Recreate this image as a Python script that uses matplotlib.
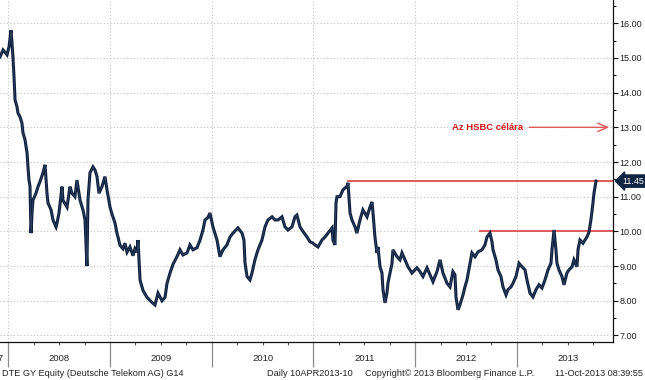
import matplotlib
matplotlib.use('Agg')
import matplotlib.pyplot as plt
import matplotlib.transforms as mtransforms
from matplotlib.ticker import MultipleLocator, FixedLocator, NullFormatter

plt.rcParams['font.family'] = ['Liberation Sans', 'DejaVu Sans']

# ---- data (decimal year, price in EUR) ----
dates = [2007.918, 2007.948, 2007.987, 2008.007, 2008.026, 2008.036, 2008.046, 2008.056,
         2008.066, 2008.085, 2008.095, 2008.115, 2008.134, 2008.144, 2008.164, 2008.184,
         2008.193, 2008.203, 2008.213, 2008.223, 2008.233, 2008.242, 2008.272, 2008.292,
         2008.311, 2008.341, 2008.361, 2008.380, 2008.390, 2008.420, 2008.439, 2008.469,
         2008.479, 2008.498, 2008.528, 2008.537, 2008.577, 2008.606, 2008.626, 2008.655,
         2008.675, 2008.705, 2008.734, 2008.754, 2008.773, 2008.783, 2008.803, 2008.832,
         2008.852, 2008.872, 2008.891, 2008.921, 2008.950, 2008.970, 2009.000, 2009.019,
         2009.049, 2009.068, 2009.078, 2009.098, 2009.127, 2009.147, 2009.167, 2009.196,
         2009.226, 2009.245, 2009.265, 2009.275, 2009.295, 2009.324, 2009.363, 2009.413,
         2009.442, 2009.472, 2009.511, 2009.541, 2009.560, 2009.590, 2009.619, 2009.658,
         2009.688, 2009.717, 2009.757, 2009.786, 2009.816, 2009.855, 2009.885, 2009.914,
         2009.934, 2009.963, 2009.983, 2010.012, 2010.052, 2010.081, 2010.111, 2010.150,
         2010.180, 2010.209, 2010.258, 2010.298, 2010.317, 2010.327, 2010.347, 2010.376,
         2010.396, 2010.425, 2010.455, 2010.494, 2010.524, 2010.553, 2010.593, 2010.622,
         2010.652, 2010.691, 2010.720, 2010.750, 2010.789, 2010.819, 2010.838, 2010.868,
         2010.897, 2010.937, 2010.966, 2010.996, 2011.015, 2011.045, 2011.084, 2011.114,
         2011.143, 2011.183, 2011.192, 2011.212, 2011.222, 2011.232, 2011.261, 2011.291,
         2011.330, 2011.340, 2011.360, 2011.379, 2011.409, 2011.428, 2011.458, 2011.487,
         2011.527, 2011.556, 2011.576, 2011.586, 2011.605, 2011.625, 2011.635, 2011.655,
         2011.674, 2011.684, 2011.704, 2011.723, 2011.733, 2011.773, 2011.782, 2011.822,
         2011.851, 2011.871, 2011.900, 2011.930, 2011.969, 2011.999, 2012.018, 2012.048,
         2012.077, 2012.117, 2012.146, 2012.176, 2012.215, 2012.245, 2012.274, 2012.313,
         2012.343, 2012.363, 2012.372, 2012.392, 2012.402, 2012.422, 2012.441, 2012.471,
         2012.490, 2012.510, 2012.540, 2012.559, 2012.589, 2012.618, 2012.658, 2012.687,
         2012.707, 2012.736, 2012.756, 2012.766, 2012.795, 2012.815, 2012.844, 2012.864,
         2012.894, 2012.913, 2012.943, 2012.962, 2012.992, 2013.022, 2013.051, 2013.081,
         2013.100, 2013.130, 2013.159, 2013.189, 2013.218, 2013.248, 2013.277, 2013.307,
         2013.336, 2013.346, 2013.356, 2013.366, 2013.385, 2013.395, 2013.415, 2013.444,
         2013.464, 2013.493, 2013.513, 2013.543, 2013.562, 2013.592, 2013.602, 2013.621,
         2013.651, 2013.670, 2013.690, 2013.710, 2013.729, 2013.749, 2013.759, 2013.779]

prices = [15.03, 15.23, 15.09, 15.32, 15.80, 15.43, 15.00, 14.45,
          13.79, 13.59, 13.41, 13.30, 13.12, 12.84, 12.64, 12.26,
          11.86, 11.48, 11.30, 9.95, 10.53, 10.90, 11.10, 11.29,
          11.43, 11.69, 11.92, 11.10, 10.82, 10.62, 10.33, 10.13,
          10.24, 10.53, 11.29, 10.90, 10.70, 11.29, 11.10, 11.00,
          11.48, 10.90, 10.62, 10.33, 9.00, 10.90, 11.69, 11.86,
          11.77, 11.58, 11.10, 11.29, 11.58, 11.20, 10.70, 10.50,
          10.24, 9.95, 9.84, 9.60, 9.50, 9.66, 9.40, 9.55,
          9.30, 9.50, 9.40, 9.75, 8.60, 8.30, 8.10, 7.95,
          7.88, 8.22, 8.00, 8.10, 8.50, 8.80, 9.05, 9.27,
          9.47, 9.32, 9.38, 9.61, 9.47, 9.53, 9.75, 10.04,
          10.33, 10.40, 10.53, 10.13, 9.75, 9.27, 9.47, 9.61,
          9.84, 9.95, 10.10, 9.95, 9.75, 9.10, 8.70, 8.60,
          8.80, 9.18, 9.47, 9.75, 10.13, 10.33, 10.42, 10.33,
          10.33, 10.42, 10.13, 10.04, 10.13, 10.42, 10.47, 10.13,
          10.00, 9.84, 9.70, 9.66, 9.61, 9.55, 9.75, 9.84,
          9.95, 10.10, 9.75, 9.61, 10.82, 11.00, 11.00, 11.20,
          11.30, 11.40, 10.53, 10.33, 10.13, 9.95, 10.33, 10.62,
          10.42, 10.70, 10.85, 10.53, 9.84, 9.38, 9.55, 8.98,
          8.80, 8.32, 7.94, 8.22, 8.51, 9.08, 9.47, 9.27,
          9.18, 9.38, 9.18, 8.98, 8.80, 8.89, 8.95, 8.84,
          8.70, 8.95, 8.75, 8.55, 8.84, 9.18, 8.80, 8.51,
          8.40, 8.70, 8.84, 8.75, 8.11, 7.74, 7.88, 8.17,
          8.40, 8.60, 9.08, 9.38, 9.27, 9.41, 9.47, 9.61,
          9.84, 9.95, 9.70, 9.47, 9.18, 8.89, 8.70, 8.40,
          8.17, 8.32, 8.40, 8.50, 8.70, 9.08, 8.98, 8.89,
          8.60, 8.22, 8.11, 8.32, 8.46, 8.37, 8.60, 8.89,
          9.08, 9.47, 9.75, 10.04, 9.47, 9.08, 8.89, 8.70,
          8.46, 8.80, 8.89, 8.98, 9.18, 8.98, 9.47, 9.75,
          9.66, 9.75, 9.84, 9.98, 10.33, 10.82, 11.10, 11.45]

year_labels = ['2007', '2008', '2009', '2010', '2011', '2012', '2013']
level_values = [11.45, 10.00]
level_starts = [2011.34, 2012.64]
target_price = 13.00
target_label = 'Az HSBC célára'
target_text_x = 2013.06
last_label = '11.45'
footer_left = 'DTE GY Equity (Deutsche Telekom AG) G14'
footer_mid = 'Daily 10APR2013-10'
footer_copy = 'Copyright\u00a9 2013 Bloomberg Finance L.P.'
footer_right = '11-Oct-2013 08:39:55'

NAVY = '#0c1f3f'
RED_LINE = '#e05a5a'
RED_TEXT = '#d01818'
TXT = '#222222'

W, H = 645, 380
fig = plt.figure(figsize=(W / 100, H / 100), dpi=100)
ax_right_px, ax_bottom_px = 613, 341.7
ax = fig.add_axes([0, (H - ax_bottom_px) / H, ax_right_px / W, ax_bottom_px / H])

x0, x1 = 2007.918, 2013.946
ax.set_xlim(x0, x1)
ax.set_ylim(6.82, 16.67)

# grid
ax.set_axisbelow(True)
ax.yaxis.set_major_locator(MultipleLocator(1.0))
ax.yaxis.set_minor_locator(MultipleLocator(0.5))
ax.xaxis.set_major_locator(FixedLocator([2008, 2009, 2010, 2011, 2012, 2013]))
ax.xaxis.set_minor_locator(FixedLocator([y + q / 4 for y in range(2007, 2014) for q in (1, 2, 3)]))
ax.grid(True, which='major', color='#c4c4c4', linestyle=(0, (1, 2)), linewidth=0.8)

# price line (dense bar-chart look)
ax.plot(dates, prices, color=NAVY, lw=2.2, solid_joinstyle='miter', zorder=3)
ax.plot(dates, prices, color='#6f7f96', lw=0.35, alpha=0.6, zorder=3.5)

# resistance levels
for lv, st in zip(level_values, level_starts):
    ax.plot([st, x1], [lv, lv], color=RED_LINE, lw=1.4, zorder=2)

# target arrow + label
ax.annotate('', xy=(x1 - 0.01, target_price), xytext=(target_text_x + 0.035, target_price),
            arrowprops=dict(arrowstyle='->,head_length=0.7,head_width=0.3', color=RED_LINE, lw=1.0),
            zorder=4)
ax.text(target_text_x, target_price, target_label, color=RED_TEXT, fontsize=6.8,
        fontweight='bold', ha='right', va='center')

# spines
for s in ('top', 'left'):
    ax.spines[s].set_visible(False)
ax.spines['right'].set_color('#111111')
ax.spines['bottom'].set_color('#111111')
ax.spines['right'].set_linewidth(0.9)
ax.spines['bottom'].set_linewidth(0.9)

# y axis on the right
ax.yaxis.tick_right()
ax.yaxis.set_major_formatter(plt.FuncFormatter(lambda v, p: f'{v:.2f}'))
ax.tick_params(axis='y', which='major', length=3.5, width=0.8, color='#111111',
               labelsize=6.5, labelcolor=TXT, pad=1)
ax.tick_params(axis='y', which='minor', length=2.5, width=0.8, color='#111111')

# x axis: long year separators, short quarter ticks
ax.xaxis.set_major_formatter(NullFormatter())
ax.tick_params(axis='x', which='major', length=18, width=0.9, color='#8a8a8a')
ax.tick_params(axis='x', which='minor', length=2.5, width=0.8, color='#555555')

trans = mtransforms.blended_transform_factory(ax.transData, ax.transAxes)
for lab in year_labels[1:]:
    yv = int(lab)
    ax.text(yv + 0.5, -0.048, lab, transform=trans, ha='center', va='center',
            fontsize=6.8, color=TXT, clip_on=False)
ax.text(2007.952, -0.048, year_labels[0], transform=trans, ha='right', va='center',
        fontsize=6.8, color=TXT, clip_on=False)

# last price tag
transy = mtransforms.blended_transform_factory(ax.transAxes, ax.transData)
ax.text(1.0 + 9 / ax_right_px, prices[-1], last_label, transform=transy, ha='left', va='center',
        fontsize=6.5, color='white', clip_on=False, zorder=6,
        bbox=dict(boxstyle='larrow,pad=0.18', fc='#0f2542', ec='#0f2542'))

# footer
fy = (H - 373) / H
fig.text(2 / W, fy, footer_left, fontsize=6.6, color=TXT, ha='left', va='center')
fig.text(267 / W, fy, footer_mid, fontsize=6.6, color=TXT, ha='left', va='center')
fig.text(365 / W, fy, footer_copy, fontsize=6.6, color=TXT, ha='left', va='center')
fig.text(643 / W, fy, footer_right, fontsize=6.6, color=TXT, ha='right', va='center')

fig.savefig('out.png', dpi=100)
